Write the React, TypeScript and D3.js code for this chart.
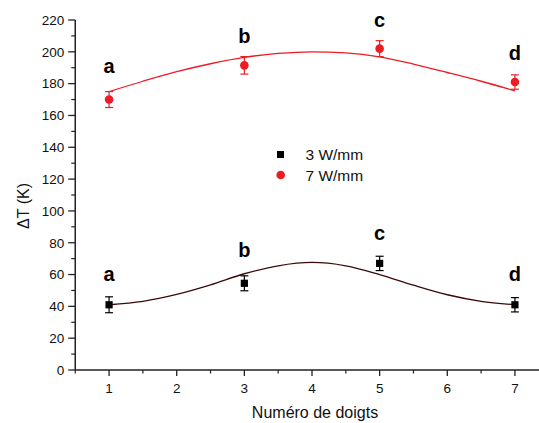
import React from "react";
import * as d3 from "d3";

const xTicks = [1, 2, 3, 4, 5, 6, 7];
const yTicks = [0, 20, 40, 60, 80, 100, 120, 140, 160, 180, 200, 220];
const pointX = [1, 3, 5, 7];
const labels = ["a", "b", "c", "d"];

const series3Values = [41, 54.5, 67, 41];
const series3Err = [5, 4.7, 4.5, 4.5];
const series7Values = [170, 191.5, 202, 181];
const series7Err = [5, 5.5, 5, 4.5];

const curveX = [1, 1.5, 2, 2.5, 3, 3.5, 4, 4.5, 5, 5.5, 6, 6.5, 7];
const curve3Values = [41, 43.2, 47.5, 53.5, 60.5, 65.5, 67.6, 65.5, 60, 53.3, 47.3, 43.2, 41];
const curve7Values = [175, 181.5, 187.5, 192.5, 196.5, 199, 200, 199.3, 196.8, 192.3, 187, 181.5, 175.5];

const label3Y = [56, 71, 81.7, 56];
const label7Y = [186.7, 205.5, 215.6, 194.9];

const legendNames = ["3 W/mm", "7 W/mm"];

const RED = "#ec1c24";
const BLACK = "#000";
const AXIS = "#222";

export default function App() {
  const W = 539, H = 423;
  const x = d3.scaleLinear().domain([0.5, 7.5]).range([75.25, 548.75]);
  const y = d3.scaleLinear().domain([0, 220]).range([370, 20]);
  const line = d3
    .line<number>()
    .x((_, i) => x(curveX[i]))
    .y((v) => y(v))
    .curve(d3.curveMonotoneX);

  const xMinor = d3.range(0.5, 7.51, 0.5).filter((v) => !Number.isInteger(v));
  const yMinor = d3.range(10, 220, 20);
  const font = "Arial, 'Liberation Sans', sans-serif";

  const errBars = (vals: number[], errs: number[], color: string) =>
    vals.map((v, i) => {
      const cx = x(pointX[i]);
      const y1 = y(v + errs[i]);
      const y2 = y(v - errs[i]);
      return (
        <g key={i} stroke={color} strokeWidth={1.2}>
          <line x1={cx} x2={cx} y1={y1} y2={y2} />
          <line x1={cx - 4} x2={cx + 4} y1={y1} y2={y1} />
          <line x1={cx - 4} x2={cx + 4} y1={y2} y2={y2} />
        </g>
      );
    });

  return (
    <svg
      width={W}
      height={H}
      style={{ position: "absolute", left: 0, top: 0, background: "#fff" }}
      fontFamily={font}
    >
      <rect width={W} height={H} fill="#fff" />
      {/* curves */}
      <path d={line(curve7Values) || ""} fill="none" stroke={RED} strokeWidth={1.3} />
      <path d={line(curve3Values) || ""} fill="none" stroke="#3a0a0a" strokeWidth={1.3} />

      {/* error bars & markers */}
      {errBars(series7Values, series7Err, RED)}
      {errBars(series3Values, series3Err, BLACK)}
      {series7Values.map((v, i) => (
        <circle key={"c" + i} cx={x(pointX[i])} cy={y(v)} r={4.3} fill={RED} />
      ))}
      {series3Values.map((v, i) => (
        <rect key={"s" + i} x={x(pointX[i]) - 3.6} y={y(v) - 3.6} width={7.2} height={7.2} fill={BLACK} />
      ))}

      {/* letter labels */}
      {labels.map((l, i) => (
        <text key={"l7" + i} x={x(pointX[i])} y={y(label7Y[i])} textAnchor="middle" fontSize={20} fontWeight="bold" fill="#000">
          {l}
        </text>
      ))}
      {labels.map((l, i) => (
        <text key={"l3" + i} x={x(pointX[i])} y={y(label3Y[i])} textAnchor="middle" fontSize={20} fontWeight="bold" fill="#000">
          {l}
        </text>
      ))}

      {/* y axis */}
      <line x1={x(0.5)} x2={x(0.5)} y1={y(220)} y2={y(0)} stroke={AXIS} strokeWidth={1.5} />
      {yTicks.map((t) => (
        <g key={"yt" + t}>
          <line x1={x(0.5) - 7} x2={x(0.5)} y1={y(t)} y2={y(t)} stroke={AXIS} strokeWidth={1.3} />
          <text x={x(0.5) - 11} y={y(t) + 4.8} textAnchor="end" fontSize={13.5} fill="#111">
            {t}
          </text>
        </g>
      ))}
      {yMinor.map((t) => (
        <line key={"ym" + t} x1={x(0.5) - 4} x2={x(0.5)} y1={y(t)} y2={y(t)} stroke={AXIS} strokeWidth={1.2} />
      ))}

      {/* x axis */}
      <line x1={x(0.5)} x2={x(7.5)} y1={y(0)} y2={y(0)} stroke={AXIS} strokeWidth={1.5} />
      {xTicks.map((t) => (
        <g key={"xt" + t}>
          <line x1={x(t)} x2={x(t)} y1={y(0)} y2={y(0) + 6} stroke={AXIS} strokeWidth={1.3} />
          <text x={x(t)} y={392.5} textAnchor="middle" fontSize={13.5} fill="#111">
            {t}
          </text>
        </g>
      ))}
      {xMinor.map((t) => (
        <line key={"xm" + t} x1={x(t)} x2={x(t)} y1={y(0)} y2={y(0) + 3.5} stroke={AXIS} strokeWidth={1.2} />
      ))}

      {/* axis titles */}
      <text x={315} y={418} textAnchor="middle" fontSize={16} fill="#111">
        Numéro de doigts
      </text>
      <text transform="translate(29,206) rotate(-90)" textAnchor="middle" fontSize={16} fill="#111">
        ΔT (K)
      </text>

      {/* legend */}
      <rect x={277} y={151} width={7} height={7} fill={BLACK} />
      <text x={305.5} y={159.5} fontSize={15.5} fill="#111">
        {legendNames[0]}
      </text>
      <circle cx={280.7} cy={175} r={4.3} fill={RED} />
      <text x={305.5} y={180.5} fontSize={15.5} fill="#111">
        {legendNames[1]}
      </text>
    </svg>
  );
}
